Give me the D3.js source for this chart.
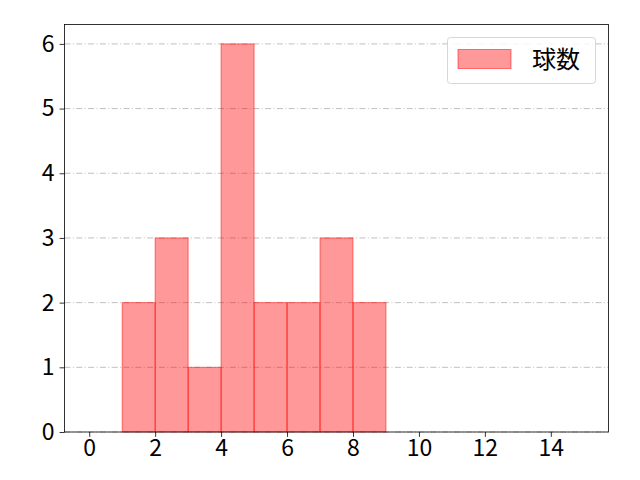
<!DOCTYPE html>
<html>
<head>
<meta charset="utf-8">
<script src="https://cdn.jsdelivr.net/npm/d3@7"></script>
<style>
  body { margin: 0; background: #fff; }
  svg { display: block; }
  text { font-family: "Noto Sans CJK JP", "DejaVu Sans", sans-serif; }
</style>
</head>
<body>
<svg id="chart" width="640" height="480"></svg>
<script>
// bin edges and counts
const binStarts = [0, 1, 2, 3, 4, 5, 6, 7, 8, 9, 10, 11, 12, 13, 14];
const counts    = [0, 2, 3, 1, 6, 2, 2, 3, 2, 0, 0, 0, 0, 0, 0];
const xTicks = [0, 2, 4, 6, 8, 10, 12, 14];
const yTicks = [0, 1, 2, 3, 4, 5, 6];
const seriesName = "球数";

const svg = d3.select("#chart");
const plotL = 64.5, plotR = 608.5, plotT = 24.5, plotB = 432;
const fontSize = "23px";

const X = d3.scaleLinear().domain([-0.75, 15.75]).range([plotL, plotR]);
const Y = d3.scaleLinear().domain([0, 6.3]).range([plotB, plotT]);

// grid lines, dash-dot, behind bars
svg.append("g").selectAll("line.grid")
    .data(yTicks)
    .enter()
    .append("line")
    .attr("class", "grid")
    .attr("x1", plotL).attr("x2", plotR)
    .attr("y1", d => Y(d)).attr("y2", d => Y(d))
    .style("stroke", "#b0b0b0")
    .style("stroke-width", 0.8)
    .style("stroke-dasharray", "6,2.4,1,2.4");

const bins = binStarts.map((s, i) => ({ x0: s, x1: s + 1, n: counts[i] }));

svg.append("g").selectAll("rect.bar")
    .data(bins)
    .enter()
    .append("rect")
    .attr("class", "bar")
    .attr("x", d => X(d.x0))
    .attr("width", d => X(d.x1) - X(d.x0))
    .attr("y", d => Y(d.n))
    .attr("height", d => Y(0) - Y(d.n))
    .style("fill", "rgba(255,0,0,0.4)")
    .style("stroke", "rgba(255,0,0,0.5)")
    .style("stroke-width", 1);

// axes
const xAxis = d3.axisBottom(X).tickValues(xTicks).tickSize(4.9).tickPadding(3).tickFormat(d3.format("d"));
const yAxis = d3.axisLeft(Y).tickValues(yTicks).tickSize(4.9).tickPadding(5).tickFormat(d3.format("d"));

const gx = svg.append("g").attr("transform", `translate(0,${plotB})`).call(xAxis);
const gy = svg.append("g").attr("transform", `translate(${plotL},0)`).call(yAxis);
[gx, gy].forEach(g => {
    g.select(".domain").remove();
    g.selectAll("line").style("stroke", "#000").style("stroke-width", 0.8);
    g.selectAll("text").style("font-size", fontSize).style("fill", "#000")
        .style("font-family", '"Noto Sans CJK JP", "DejaVu Sans", sans-serif');
});

// frame
svg.append("rect")
    .attr("x", plotL).attr("y", plotT)
    .attr("width", plotR - plotL).attr("height", plotB - plotT)
    .style("fill", "none").style("stroke", "#000").style("stroke-width", 0.8);

// legend
const lg = svg.append("g");
lg.append("rect")
    .attr("x", 447.5).attr("y", 37.5).attr("width", 148).attr("height", 46)
    .attr("rx", 3)
    .style("fill", "rgba(255,255,255,0.8)")
    .style("stroke", "#cccccc").style("stroke-width", 0.8);
lg.append("rect")
    .attr("x", 458).attr("y", 49.5).attr("width", 53).attr("height", 19)
    .style("fill", "rgba(255,0,0,0.4)")
    .style("stroke", "rgba(255,0,0,0.5)").style("stroke-width", 1);
lg.append("text")
    .attr("x", 532).attr("y", 68)
    .style("font-size", "24px")
    .text(seriesName);
</script>
</body>
</html>
